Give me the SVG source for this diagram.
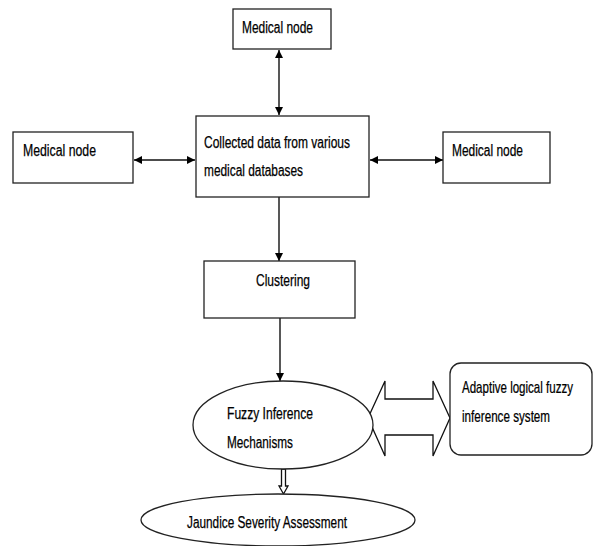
<svg xmlns="http://www.w3.org/2000/svg" width="593" height="546" viewBox="0 0 593 546">
<style>
.box{fill:#fff;stroke:#222;stroke-width:1.3}
.lbl{font-family:"Liberation Sans",Arial,sans-serif;font-size:16px;fill:#000;stroke:#000;stroke-width:0.25}
.con{fill:none;stroke:#111;stroke-width:1.4}
.blk{fill:#fff;stroke:#111;stroke-width:1.3;stroke-linejoin:miter}
</style>
<defs>
<marker id="ah" viewBox="0 0 10 10" refX="10" refY="5" markerWidth="8" markerHeight="8" markerUnits="userSpaceOnUse" orient="auto-start-reverse">
<path d="M0,0 L10,5 L0,10 Z" fill="#000"/>
</marker>
</defs>
<rect width="593" height="546" fill="#fff"/>
<g id="connectors">
<line class="con" x1="279" y1="50" x2="279" y2="115" marker-start="url(#ah)" marker-end="url(#ah)"/>
<line class="con" x1="134" y1="160" x2="195" y2="160" marker-start="url(#ah)" marker-end="url(#ah)"/>
<line class="con" x1="370" y1="160" x2="443" y2="160" marker-start="url(#ah)" marker-end="url(#ah)"/>
<line class="con" x1="279" y1="197" x2="279" y2="261" marker-end="url(#ah)"/>
<line class="con" x1="280" y1="318" x2="280" y2="381" marker-end="url(#ah)"/>
<polygon class="blk" points="368,418 385,381 385,399 433,399 433,381 450,418 433,456 433,435 385,435 385,456"/>
<polygon class="blk" stroke-width="1" points="281.5,469 285.5,469 285.5,486 288,486 283.5,494 279,486 281.5,486"/>
</g>
<g id="n-top">
<rect class="box" x="233" y="9" width="98" height="40"/>
<text class="lbl" x="242" y="33" textLength="71" lengthAdjust="spacingAndGlyphs">Medical node</text>
</g>
<g id="n-left">
<rect class="box" x="13" y="132" width="120" height="51"/>
<text class="lbl" x="23" y="156" textLength="73" lengthAdjust="spacingAndGlyphs">Medical node</text>
</g>
<g id="n-right">
<rect class="box" x="443" y="132" width="107" height="51"/>
<text class="lbl" x="452" y="156" textLength="71" lengthAdjust="spacingAndGlyphs">Medical node</text>
</g>
<g id="n-center">
<rect class="box" x="196" y="116" width="173" height="81"/>
<text class="lbl" x="204" y="148" textLength="146" lengthAdjust="spacingAndGlyphs">Collected data from various</text>
<text class="lbl" x="204" y="176" textLength="99" lengthAdjust="spacingAndGlyphs">medical databases</text>
</g>
<g id="n-cluster">
<rect class="box" x="204" y="261" width="151" height="57"/>
<text class="lbl" x="256" y="286" textLength="54" lengthAdjust="spacingAndGlyphs">Clustering</text>
</g>
<g id="n-fuzzy">
<ellipse class="box" cx="283" cy="425" rx="90" ry="44"/>
<text class="lbl" x="227" y="419" textLength="86" lengthAdjust="spacingAndGlyphs">Fuzzy  Inference</text>
<text class="lbl" x="227" y="448" textLength="66" lengthAdjust="spacingAndGlyphs">Mechanisms</text>
</g>
<g id="n-adaptive">
<rect class="box" x="450" y="363" width="142" height="92" rx="11" ry="11"/>
<text class="lbl" transform="translate(462,393) scale(0.74,1)" x="0" y="0" textLength="150" lengthAdjust="spacingAndGlyphs">Adaptive logical fuzzy</text>
<text class="lbl" transform="translate(462,422) scale(0.74,1)" x="0" y="0" textLength="119" lengthAdjust="spacingAndGlyphs">inference system</text>
</g>
<g id="n-jaundice">
<ellipse class="box" cx="278" cy="520" rx="137" ry="26"/>
<text class="lbl" x="187" y="528" textLength="160" lengthAdjust="spacingAndGlyphs">Jaundice Severity Assessment</text>
</g>
</svg>
